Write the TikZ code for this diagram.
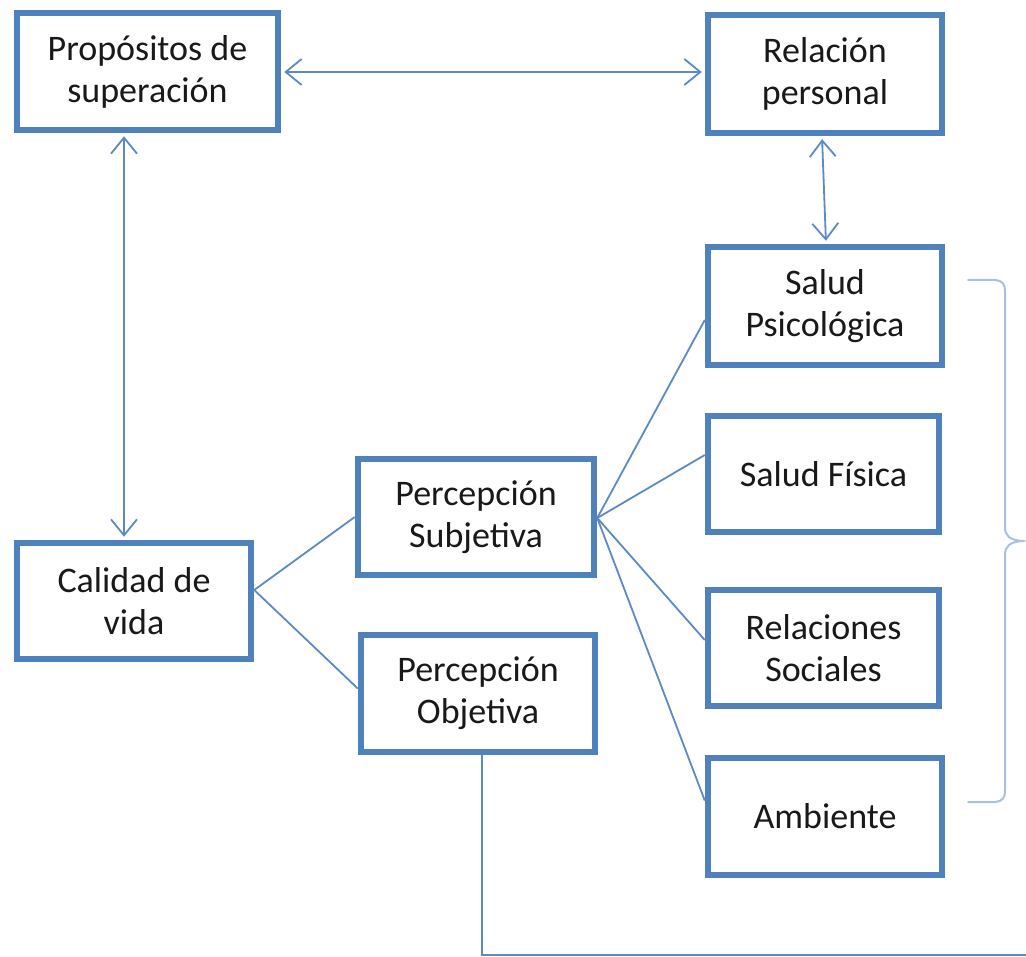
\documentclass[tikz,border=0pt]{standalone}
\usepackage{fontspec}
\setmainfont{Carlito}
\usetikzlibrary{arrows.meta,calc}
\definecolor{boxblue}{HTML}{4F81BD}
\definecolor{lineblue}{HTML}{5B8AC4}
\definecolor{braceblue}{HTML}{A7C1DF}
\begin{document}
\begin{tikzpicture}[x=1pt,y=-1pt,
  box/.style={draw=boxblue,line width=6.5pt,rectangle,inner sep=0pt,align=center,
    font=\fontsize{36}{42}\selectfont,text=black!90},
  conn/.style={draw=lineblue,line width=1.8pt},
  dbl/.style={conn,{Straight Barb[length=16pt,width=26pt,line width=1.8pt]}-{Straight Barb[length=16pt,width=26pt,line width=1.8pt]}}
]
\useasboundingbox[fill=white] (0,0) rectangle (1026,957);

\node[box,minimum width=261pt,minimum height=117pt] (prop) at (147.5,71.5) {Propósitos de\\superación};
\node[box,minimum width=234pt,minimum height=118pt] (rel) at (825,74) {Relación\\personal};
\node[box,minimum width=234pt,minimum height=118pt] (psi) at (825,306) {Salud\\Psicológica};
\node[box,minimum width=231pt,minimum height=116pt] (fis) at (823.5,474) {Salud Física};
\node[box,minimum width=231pt,minimum height=116pt] (soc) at (823.5,648) {Relaciones\\Sociales};
\node[box,minimum width=234pt,minimum height=117pt] (amb) at (825,816.5) {Ambiente};
\node[box,minimum width=234pt,minimum height=116pt] (cal) at (134,601) {Calidad de\\vida};
\node[box,minimum width=236pt,minimum height=116pt] (subj) at (476,517) {Percepción\\Subjetiva};
\node[box,minimum width=234pt,minimum height=117pt] (obj) at (478,693.5) {Percepción\\Objetiva};

\coordinate (end) at (1026,955);

% double arrows
\draw[dbl,shorten <=3pt,shorten >=3pt] ([yshift=-0.5pt]prop.east) -- ([yshift=-0.5pt]prop.east -| rel.west);
\draw[dbl,shorten <=3pt,shorten >=3pt] ([xshift=-23.5pt]prop.south) -- ([xshift=-23.5pt]prop.south |- cal.north);
\draw[dbl,shorten <=3pt,shorten >=3pt] ([xshift=-3pt]rel.south) -- ([xshift=1pt]psi.north);

% tree lines
\draw[conn] ([yshift=11pt]cal.east) -- (subj.west);
\draw[conn] ([yshift=11pt]cal.east) -- ([yshift=5pt]obj.west);
\draw[conn] ([yshift=-1pt]subj.east) -- ([yshift=-14pt]psi.west);
\draw[conn] ([yshift=-1pt]subj.east) -- ([yshift=19pt]fis.west);
\draw[conn] ([yshift=-1pt]subj.east) -- ([yshift=8pt]soc.west);
\draw[conn] ([yshift=-1pt]subj.east) -- ([yshift=16pt]amb.west);

% bottom connector
\draw[conn] ([xshift=4pt]obj.south) |- (end);

% brace
\draw[braceblue,line width=2pt,line cap=round]
  (968,280) -- (995,280) .. controls (1003,281) and (1005,284) .. (1005,292)
  -- (1005,527) .. controls (1005,536) and (1010,540) .. (1022,541)
  .. controls (1010,542) and (1005,546) .. (1005,555)
  -- (1005,790) .. controls (1005,798) and (1003,801) .. (995,802) -- (968,802);
\end{tikzpicture}
\end{document}
